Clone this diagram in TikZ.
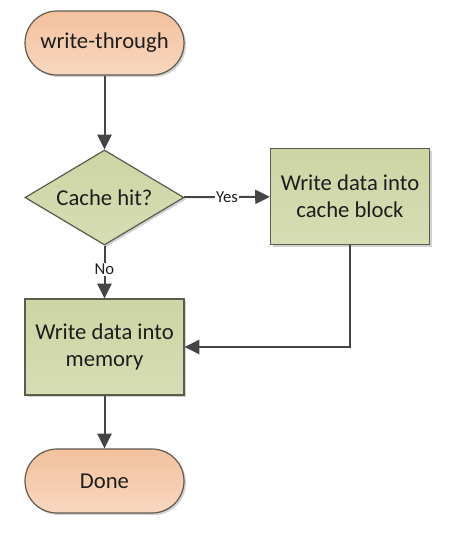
\documentclass[tikz,border=0pt]{standalone}
\usepackage{fontspec}
\setmainfont{Carlito}
\usetikzlibrary{arrows.meta,shapes.geometric,shadows}
\definecolor{peachT}{HTML}{F3C19D}
\definecolor{peachB}{HTML}{F8D7C0}
\definecolor{greenT}{HTML}{CDD5A4}
\definecolor{greenB}{HTML}{D6DDB4}
\definecolor{edgeC}{HTML}{5E5A4E}
\definecolor{lineC}{HTML}{454545}
\definecolor{txtC}{HTML}{1E1E1E}
\tikzset{
  px/.style={x=0.75pt,y=-0.75pt},
  shad/.style={drop shadow={shadow xshift=1.5pt,shadow yshift=-1.5pt,opacity=0.18,fill=black}},
  term/.style={draw=edgeC,line width=0.9pt,top color=peachT,bottom color=peachB,
    minimum width=119.25pt,minimum height=48pt,rounded corners=24pt,
    font=\fontsize{17}{20}\selectfont,text=txtC,inner sep=0pt,shad},
  proc/.style={draw=edgeC,line width=0.9pt,top color=greenT,bottom color=greenB,
    minimum width=119.25pt,minimum height=72pt,align=center,
    font=\fontsize{17}{20.5}\selectfont,text=txtC,inner sep=0pt,shad},
  dec/.style={diamond,draw=edgeC,line width=0.9pt,top color=greenT,bottom color=greenB,
    minimum width=119.25pt,minimum height=71.25pt,aspect=1.67,
    font=\fontsize{17}{20}\selectfont,text=txtC,inner sep=0pt,shad},
  conn/.style={draw=lineC,line width=1.5pt,-{Triangle[length=11pt,width=10.5pt]}},
  lbl/.style={font=\fontsize{12.5}{14}\selectfont,text=txtC,fill=white,inner sep=0.8pt},
}
\begin{document}
\begin{tikzpicture}[px]
\useasboundingbox (0,0) rectangle (451,544);
\node[term] (start) at (104.5,43) {write-through};
\node[dec] (hit) at (104.5,197.5) {Cache hit?};
\node[proc] (cache) at (350,196.5) {Write data into\\cache block};
\node[proc] (mem) at (104.5,347) {Write data into\\memory};
\node[term] (done) at (104.5,481) {Done};
\draw[conn] (start) -- (hit);
\draw[conn] (hit) -- node[lbl,pos=0.5] {Yes} (cache);
\draw[conn] (hit) -- node[lbl,pos=0.45] {No} (mem);
\draw[conn] (cache.south) |- (mem.east);
\draw[conn] (mem) -- (done);
\end{tikzpicture}
\end{document}
